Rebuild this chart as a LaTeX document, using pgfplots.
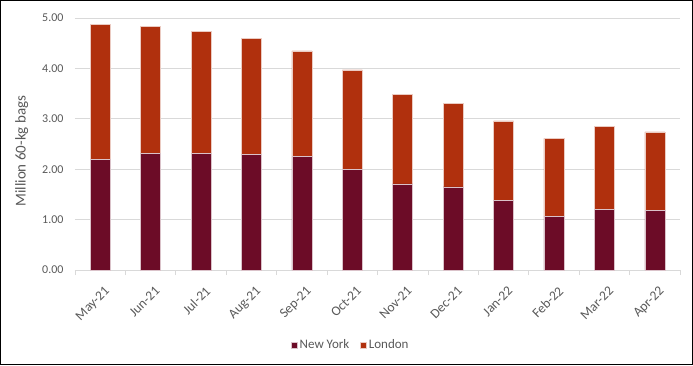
\documentclass[border=0pt]{standalone}
\usepackage{pgfplots}
\pgfplotsset{compat=1.18}
\usepackage{fontspec}
\setmainfont{Carlito}
\definecolor{ny}{RGB}{108,12,39}
\definecolor{ldn}{RGB}{176,48,13}
\definecolor{txt}{RGB}{89,89,89}
\definecolor{grd}{RGB}{217,217,217}
\begin{document}
\begin{tikzpicture}
\begin{axis}[
  at={(0pt,0pt)}, anchor=south west,
  scale only axis,
  width=605pt, height=252pt,
  ybar stacked, bar width=20pt,
  xmin=-0.5, xmax=11.5,
  ymin=0, ymax=5,
  ytick={0,1,2,3,4,5},
  yticklabel style={/pgf/number format/fixed, /pgf/number format/fixed zerofill, /pgf/number format/precision=2},
  /pgf/number format/assume math mode=true,
  ymajorgrids, grid style={grd, line width=0.8pt},
  axis y line*=left, y axis line style={draw=none},
  axis x line*=bottom, x axis line style={grd, line width=0.8pt},
  xtick={0,...,11},
  xticklabels={May-21,Jun-21,Jul-21,Aug-21,Sep-21,Oct-21,Nov-21,Dec-21,Jan-22,Feb-22,Mar-22,Apr-22},
  minor xtick={-0.5,0.5,...,11.5},
  major tick length=0pt, minor tick length=5pt,
  tick align=outside,
  minor tick style={grd, line width=0.8pt},
  xticklabel style={rotate=45, anchor=north east, font=\fontsize{13.5}{14}\selectfont, text=txt, xshift=-5pt, yshift=-10pt},
  yticklabel style={font=\fontsize{12}{12}\selectfont, text=txt, xshift=-8pt},
  every axis y label/.style={at={(axis description cs:-0.088,0.472)}, rotate=90, anchor=center, font=\fontsize{15}{15}\selectfont, text=txt},
  ylabel={Million 60-kg bags},
  legend style={at={(axis description cs:0.456,-0.298)}, anchor=center, draw=none, legend columns=2, font=\fontsize{13}{13}\selectfont, text=txt, /tikz/every even column/.append style={column sep=9pt}},
  legend image code/.code={\fill[#1] (1pt,-3pt) rectangle (7pt,3pt);},
]
\addplot[fill=ny, draw=white!75!ny, line width=0.5pt] coordinates {
(0,2.19) (1,2.32) (2,2.31) (3,2.30) (4,2.25) (5,1.99) (6,1.71) (7,1.65) (8,1.38) (9,1.07) (10,1.21) (11,1.18)};
\addplot[fill=ldn, draw=white!75!ldn, line width=0.5pt] coordinates {
(0,2.685) (1,2.52) (2,2.43) (3,2.30) (4,2.10) (5,1.98) (6,1.77) (7,1.66) (8,1.58) (9,1.54) (10,1.64) (11,1.56)};
\legend{New York, London}
\end{axis}
\draw[black, line width=1pt] (-74.5pt,-94.5pt) rectangle (617.5pt,269.5pt);
\end{tikzpicture}
\end{document}
